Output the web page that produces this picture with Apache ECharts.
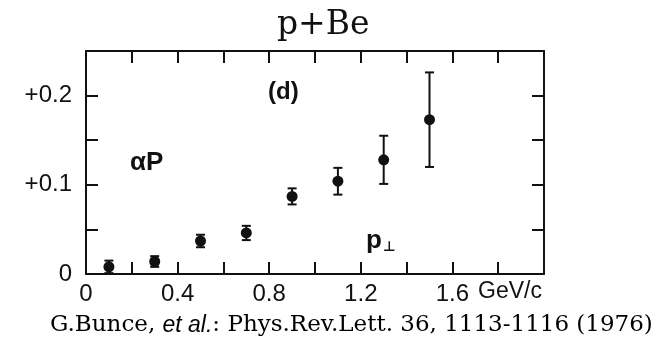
<!DOCTYPE html>
<html>
<head>
<meta charset="utf-8">
<style>
  html, body { margin: 0; padding: 0; background: #fff; }
  #main { width: 660px; height: 345px; }
</style>
<script src="https://cdn.jsdelivr.net/npm/echarts@6/dist/echarts.min.js"></script>
</head>
<body>
<div id="main"></div>
<script>
// p_T values (GeV/c) and alpha*P with its error
const ptValues = [0.1, 0.3, 0.5, 0.7, 0.9, 1.1, 1.3, 1.5]
const alphaP = [0.008, 0.014, 0.037, 0.046, 0.087, 0.104, 0.128, 0.173]
const alphaPErr = [0.007, 0.006, 0.007, 0.008, 0.009, 0.015, 0.027, 0.053]
const xTickLabels = ['0', '0.4', '0.8', '1.2', '1.6']
const yTickLabels = ['0', '+0.1', '+0.2']

const ink = '#111'
const sans = 'Liberation Sans'
const serif = 'DejaVu Serif'

const chart = echarts.init(document.getElementById('main'), null, { renderer: 'canvas' })

function near(v, target) {
  return Math.abs(v - target) < 1e-6
}

const points = ptValues.map((x, i) => [x, alphaP[i]])
const bars = ptValues.map((x, i) => [x, alphaP[i] - alphaPErr[i], alphaP[i] + alphaPErr[i]])

const axisCommon = {
  axisLine: { show: true, onZero: false, lineStyle: { color: ink, width: 2 } },
  axisTick: { show: true, inside: true, length: 12, lineStyle: { color: ink, width: 2 } },
  splitLine: { show: false }
}

const option = {
  animation: false,
  backgroundColor: '#fff',
  title: {
    text: 'p+Be',
    left: 272,
    top: 4,
    textStyle: { fontFamily: serif, fontSize: 33, fontWeight: 'normal', color: ink }
  },
  grid: { left: 86, right: 116, top: 51, bottom: 71 },
  xAxis: [
    Object.assign({}, axisCommon, {
      type: 'value',
      min: 0,
      max: 2.0,
      interval: 0.2,
      axisLabel: {
        margin: 8,
        fontFamily: sans,
        fontSize: 24,
        color: ink,
        formatter: function (v) {
          const i = xTickLabels.findIndex((t) => near(parseFloat(t), v))
          return i >= 0 ? xTickLabels[i] : ''
        }
      }
    }),
    Object.assign({}, axisCommon, {
      type: 'value',
      position: 'top',
      min: 0,
      max: 2.0,
      interval: 0.2,
      axisLabel: { show: false }
    })
  ],
  yAxis: [
    Object.assign({}, axisCommon, {
      type: 'value',
      min: 0,
      max: 0.25,
      interval: 0.05,
      axisLabel: {
        margin: 14,
        fontFamily: sans,
        fontSize: 24,
        color: ink,
        formatter: function (v) {
          if (near(v, 0)) return yTickLabels[0]
          if (near(v, 0.1)) return yTickLabels[1]
          if (near(v, 0.2)) return yTickLabels[2]
          return ''
        }
      }
    }),
    Object.assign({}, axisCommon, {
      type: 'value',
      position: 'right',
      min: 0,
      max: 0.25,
      interval: 0.05,
      axisLabel: { show: false }
    })
  ],
  series: [
    {
      type: 'custom',
      name: 'error',
      xAxisIndex: 0,
      yAxisIndex: 0,
      data: bars,
      renderItem: function (params, api) {
        const lo = api.coord([api.value(0), api.value(1)])
        const hi = api.coord([api.value(0), api.value(2)])
        const cap = 4.5
        const style = { stroke: ink, lineWidth: 2 }
        return {
          type: 'group',
          children: [
            { type: 'line', shape: { x1: lo[0], y1: lo[1], x2: hi[0], y2: hi[1] }, style: style },
            { type: 'line', shape: { x1: lo[0] - cap, y1: lo[1], x2: lo[0] + cap, y2: lo[1] }, style: style },
            { type: 'line', shape: { x1: hi[0] - cap, y1: hi[1], x2: hi[0] + cap, y2: hi[1] }, style: style }
          ]
        }
      },
      z: 2
    },
    {
      type: 'scatter',
      name: 'alphaP',
      xAxisIndex: 0,
      yAxisIndex: 0,
      data: points,
      symbol: 'circle',
      symbolSize: 11,
      itemStyle: { color: ink, opacity: 1 },
      z: 3
    }
  ],
  graphic: [
    {
      type: 'text',
      left: 268,
      top: 80,
      style: { text: '(d)', fontFamily: sans, fontSize: 24, fontWeight: 'bold', fill: ink }
    },
    {
      type: 'text',
      left: 130,
      top: 150,
      style: { text: 'αP', fontFamily: sans, fontSize: 26, fontWeight: 'bold', fill: ink }
    },
    {
      type: 'text',
      left: 366,
      top: 228,
      style: {
        text: '{p|p}{s|⊥}',
        fill: ink,
        rich: {
          p: { fontFamily: sans, fontSize: 26, fontWeight: 'bold', color: ink },
          s: { fontFamily: 'DejaVu Sans', fontSize: 14, fontWeight: 'bold', color: ink, padding: [12, 0, 0, 1] }
        }
      }
    },
    {
      type: 'text',
      left: 478,
      top: 280,
      style: { text: 'GeV/c', fontFamily: sans, fontSize: 23, fill: ink }
    },
    {
      type: 'text',
      left: 50,
      top: 314,
      style: {
        text: '{n|G.Bunce, }{i|et al.}{n|: Phys.Rev.Lett. 36, 1113-1116 (1976)}',
        rich: {
          n: { fontFamily: serif, fontSize: 23, color: ink },
          i: { fontFamily: sans, fontSize: 23, fontStyle: 'italic', color: ink }
        }
      }
    }
  ]
}

chart.setOption(option)
</script>
</body>
</html>
